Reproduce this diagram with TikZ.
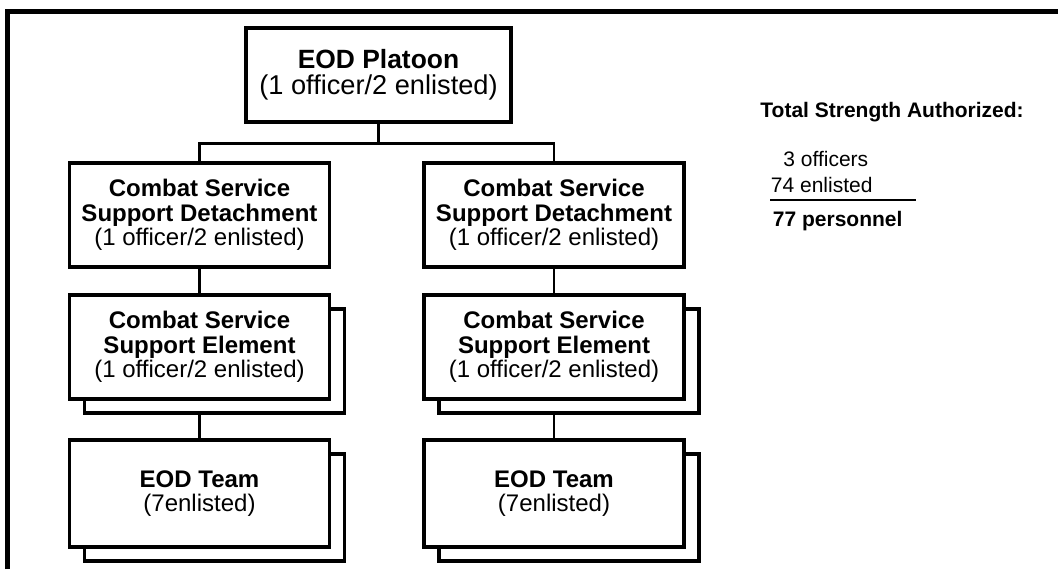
\documentclass[tikz,border=0pt]{standalone}
\usepackage{fontspec}
\setmainfont{Liberation Sans}
\usetikzlibrary{backgrounds, shadows}

\begin{document}
\begin{tikzpicture}
		[
			x=0.5pt, y=-0.5pt,
			unit/.style={rectangle, draw, line width=1.75pt, fill=white, align=center,
				inner sep=2pt, minimum width=130pt, minimum height=52pt,
				font=\fontsize{12}{12.25}\selectfont},
			stack/.style={unit, copy shadow={shadow xshift=7.5pt, shadow yshift=-7pt,
				draw, fill=white, line width=1.75pt}},
			link/.style={line width=1.4pt},
			frame/.style={line width=2.25pt},
			tally/.style={anchor=base west, inner sep=0pt, font=\fontsize{10.5}{12}\selectfont},
		]
		\useasboundingbox (0,0) rectangle (1058,569);

		% Frame
		\draw[frame] (7.5,569) -- (7.5,11.5) -- (1058,11.5);

		% Nodes
		\node[unit, minimum width=132.5pt, minimum height=47pt, font=\fontsize{13.2}{13}\selectfont]
			(plt) at (378.5,75) {\textbf{EOD Platoon}\\\fontsize{13.6}{13}\selectfont(1 officer/2 enlisted)};

		\foreach \name/\x in {A/199.5, B/554}
		{
			\node[unit] (cssd\name) at (\x,215)
				{\textbf{Combat Service}\\\textbf{Support Detachment}\\(1 officer/2 enlisted)};
			\node[stack] (csse\name) at (\x,347)
				{\textbf{Combat Service}\\\textbf{Support Element}\\(1 officer/2 enlisted)};
			\node[stack, minimum height=53.5pt] (team\name) at (\x,493.5)
				{\textbf{EOD Team}\\(7enlisted)};
		}

		% Edges
		\begin{scope}[on background layer]
			\draw[link] (plt.south) -- ++(0,20) -| (cssdA.north);
			\draw[link] (plt.south) -- ++(0,20) -| (cssdB.north);
			\foreach \u/\v in
			{
				cssdA/csseA,
				csseA/teamA,
				cssdB/csseB,
				csseB/teamB}
				\draw[link] (\u.south) -- (\v.north);
		\end{scope}

		% Totals
		\node[tally, font=\fontsize{10.5}{12}\selectfont\bfseries] (total) at (760,117) {Total Strength Authorized:};
		\node[tally] (offc) at (783,166) {3 officers};
		\node[tally] (enl) at (770.5,192.5) {74 enlisted};
		\draw[line width=1pt] (770,200) -- (916,200);
		\node[tally, font=\fontsize{10.5}{12}\selectfont\bfseries] (pers) at (772.5,226.5) {77 personnel};

		\end{tikzpicture}
\end{document}
